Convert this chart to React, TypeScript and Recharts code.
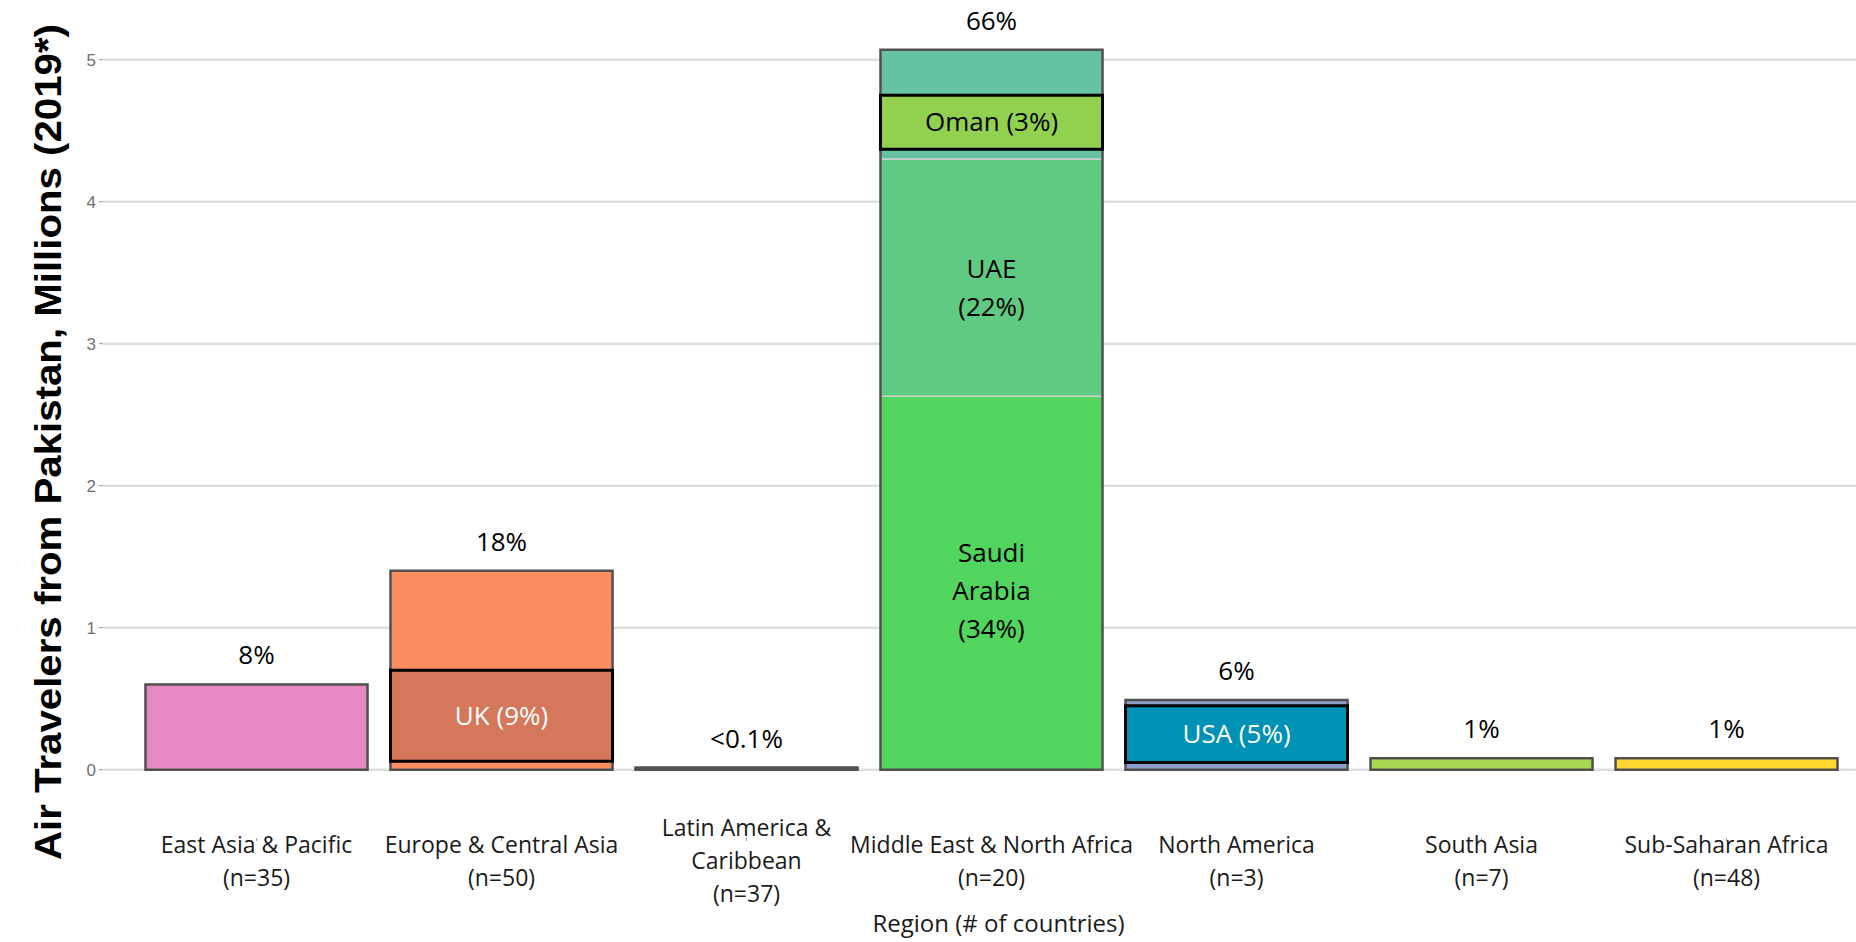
import React from 'react';
import { BarChart, Bar, XAxis, YAxis, CartesianGrid, Cell, LabelList } from 'recharts';

const regions = [
  'East Asia & Pacific',
  'Europe & Central Asia',
  'Latin America & Caribbean',
  'Middle East & North Africa',
  'North America',
  'South Asia',
  'Sub-Saharan Africa',
];
const tickLines = [
  ['East Asia & Pacific', '(n=35)'],
  ['Europe & Central Asia', '(n=50)'],
  ['Latin America &', 'Caribbean', '(n=37)'],
  ['Middle East & North Africa', '(n=20)'],
  ['North America', '(n=3)'],
  ['South Asia', '(n=7)'],
  ['Sub-Saharan Africa', '(n=48)'],
];

// travellers in millions; MENA is split into Saudi Arabia / UAE / rest
const baseSeg = [0.6, 1.4, 0.015, 2.63, 0.49, 0.08, 0.08];
const midSeg = [0, 0, 0, 1.67, 0, 0, 0];
const topSeg = [0, 0, 0, 0.77, 0, 0, 0];
const shareLabels = ['8%', '18%', '<0.1%', '66%', '6%', '1%', '1%'];
const baseText = ['', '', '', 'Saudi\nArabia\n(34%)', '', '', ''];
const midText = ['', '', '', 'UAE\n(22%)', '', '', ''];

const baseColors = ['#e78ac3', '#fc8d62', '#6b6b6b', '#52d55e', '#8da0cb', '#a6d854', '#ffd92f'];
const midColors = ['none', 'none', 'none', '#5fcb82', 'none', 'none', 'none'];
const topColors = ['none', 'none', 'none', '#66c2a5', 'none', 'none', 'none'];

// highlighted single-country callouts
const boxFrom = [0, 0.06, 0, 4.37, 0.05, 0, 0];
const boxTo = [0, 0.7, 0, 4.75, 0.45, 0, 0];
const boxText = ['', 'UK (9%)', '', 'Oman (3%)', 'USA (5%)', '', ''];
const boxColors = ['none', '#d4775a', 'none', '#92d050', '#0091b6', 'none', 'none'];
const boxTextColors = ['#000', '#ffffff', '#000', '#000000', '#ffffff', '#000', '#000'];

const yTicks = [0, 1, 2, 3, 4, 5];

const data = regions.map((region, i) => ({
  region,
  base: baseSeg[i],
  mid: midSeg[i],
  top: topSeg[i],
  total: baseSeg[i] + midSeg[i] + topSeg[i],
  boxGap: boxFrom[i],
  box: boxTo[i] - boxFrom[i],
  baseLabel: baseText[i],
  midLabel: midText[i],
  boxLabel: boxText[i],
}));

const FONT = "'Open Sans', 'Noto Sans', sans-serif";
const PAD = { left: 31, right: 7 };

const RegionTick = (props: any) => {
  const { x, y, payload } = props;
  const lines = tickLines[payload.index] || [payload.value];
  const mid = y + 18;
  return (
    <text x={x} textAnchor="middle" fontFamily={FONT} fontSize={23} fill="#1a1a1a">
      {lines.map((l, k) => (
        <tspan key={k} x={x} y={mid + (k - (lines.length - 1) / 2) * 33 + 8}>
          {l}
        </tspan>
      ))}
    </text>
  );
};

// centred multi-line text inside a bar segment; the label text comes in as the value
const multiLine = (colorOf: (text: string) => string, shift = 0) => (p: any) => {
  const t = p.value as string;
  if (!t) return null;
  const lines = t.split('\n');
  const cx = p.x + p.width / 2;
  const cy = p.y + p.height / 2 + shift;
  return (
    <text textAnchor="middle" fontFamily={FONT} fontSize={26} fill={colorOf(t)}>
      {lines.map((l, k) => (
        <tspan key={k} x={cx} y={cy + (k - (lines.length - 1) / 2) * 38 + 9}>
          {l}
        </tspan>
      ))}
    </text>
  );
};

export default function App() {
  return (
    <div style={{ position: 'absolute', left: 0, top: 0, background: '#fff' }}>
      <BarChart
        width={1856}
        height={942}
        data={data}
        margin={{ top: 10, right: 0, bottom: 0, left: 0 }}
        barCategoryGap="4.7%"
      >
        <CartesianGrid
          xAxisId="main"
          vertical={false}
          horizontalValues={yTicks}
          stroke="#dedede"
          strokeWidth={2.5}
        />
        <XAxis
          xAxisId="main"
          dataKey="region"
          interval={0}
          padding={PAD}
          height={134}
          axisLine={false}
          tickSize={3}
          tickLine={{ stroke: '#9a9a9a' }}
          tick={<RegionTick />}
          label={{
            content: (p: any) => {
              const vb = p.viewBox;
              return (
                <text
                  x={vb.x + vb.width / 2 + 19}
                  y={vb.y + 94}
                  textAnchor="middle"
                  fontFamily={FONT}
                  fontSize={24}
                  fill="#1a1a1a"
                >
                  Region (# of countries)
                </text>
              );
            },
          }}
        />
        <XAxis xAxisId="outline" dataKey="region" padding={PAD} hide />
        <XAxis xAxisId="box" dataKey="region" padding={PAD} hide />
        <YAxis
          width={103}
          domain={[-0.27, 5.35]}
          ticks={yTicks}
          allowDataOverflow
          axisLine={false}
          tickSize={4}
          tickMargin={3}
          tickLine={{ stroke: '#9a9a9a' }}
          tick={{ fontSize: 17, fill: '#707070', fontFamily: "'Liberation Sans', Arial, sans-serif" }}
          label={{
            content: (p: any) => {
              const vb = p.viewBox;
              const cx = vb.x + 48;
              const cy = vb.y + vb.height / 2 + 33;
              return (
                <text
                  x={cx}
                  y={cy}
                  transform={`rotate(-90, ${cx}, ${cy})`}
                  textAnchor="middle"
                  dominantBaseline="central"
                  fontFamily="'Liberation Sans Narrow', 'Liberation Sans', Arial, sans-serif"
                  fontWeight="bold"
                  fontSize={37}
                  textLength={836}
                  lengthAdjust="spacingAndGlyphs"
                  fill="#000"
                >
                  Air Travelers from Pakistan, Millions (2019*)
                </text>
              );
            },
          }}
        />

        <Bar xAxisId="main" dataKey="base" stackId="m" stroke="#cfcfcf" strokeWidth={1.5} isAnimationActive={false}>
          {data.map((_, i) => (
            <Cell key={i} fill={baseColors[i]} />
          ))}
          <LabelList dataKey="baseLabel" content={multiLine(() => '#000', 8)} />
        </Bar>
        <Bar xAxisId="main" dataKey="mid" stackId="m" stroke="#cfcfcf" strokeWidth={1.5} isAnimationActive={false}>
          {data.map((_, i) => (
            <Cell key={i} fill={midColors[i]} />
          ))}
          <LabelList dataKey="midLabel" content={multiLine(() => '#000', 10)} />
        </Bar>
        <Bar xAxisId="main" dataKey="top" stackId="m" stroke="#cfcfcf" strokeWidth={1.5} isAnimationActive={false}>
          {data.map((_, i) => (
            <Cell key={i} fill={topColors[i]} />
          ))}
        </Bar>

        <Bar xAxisId="outline" dataKey="total" fill="none" stroke="#505050" strokeWidth={2.5} isAnimationActive={false}>
          <LabelList
            dataKey="total"
            content={(p: any) => (
              <text
                x={p.x + p.width / 2}
                y={p.y - 20}
                textAnchor="middle"
                fontFamily={FONT}
                fontSize={26}
                fill="#000"
              >
                {shareLabels[p.index]}
              </text>
            )}
          />
        </Bar>

        <Bar xAxisId="box" dataKey="boxGap" stackId="b" fill="none" stroke="none" isAnimationActive={false} />
        <Bar xAxisId="box" dataKey="box" stackId="b" stroke="#000" strokeWidth={3} isAnimationActive={false}>
          {data.map((_, i) => (
            <Cell key={i} fill={boxColors[i]} />
          ))}
          <LabelList
            dataKey="boxLabel"
            content={multiLine((t) => boxTextColors[boxText.indexOf(t)] || '#000')}
          />
        </Bar>
      </BarChart>
    </div>
  );
}
